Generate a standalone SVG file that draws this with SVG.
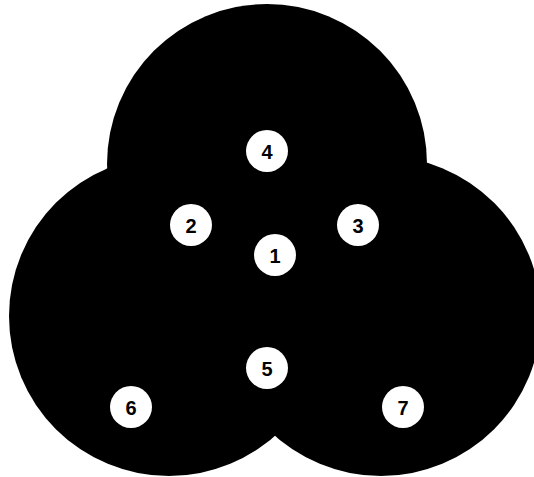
<svg xmlns="http://www.w3.org/2000/svg" width="534" height="477" viewBox="0 0 534 477">
<style>
.set{fill:#000;}
.badge circle{fill:#fff;}
.badge text{font-family:"Liberation Sans",Arial,sans-serif;font-weight:bold;font-size:20px;fill:#000;text-anchor:middle;dominant-baseline:central;}
</style>
<rect width="534" height="477" fill="#fff"/>
<g id="sets">
<circle class="set" cx="267" cy="164" r="160"/>
<circle class="set" cx="169" cy="316" r="160"/>
<circle class="set" cx="381" cy="316" r="160"/>
</g>
<g id="connectors"></g>
<g id="n1" class="badge"><circle cx="275" cy="255" r="21"/><text x="275" y="256">1</text></g>
<g id="n2" class="badge"><circle cx="191" cy="225" r="21"/><text x="191" y="226">2</text></g>
<g id="n3" class="badge"><circle cx="358" cy="225" r="21"/><text x="358" y="226">3</text></g>
<g id="n4" class="badge"><circle cx="267" cy="151" r="21"/><text x="267" y="152">4</text></g>
<g id="n5" class="badge"><circle cx="267" cy="368" r="21"/><text x="267" y="369">5</text></g>
<g id="n6" class="badge"><circle cx="131" cy="407" r="21"/><text x="131" y="408">6</text></g>
<g id="n7" class="badge"><circle cx="403" cy="407" r="21"/><text x="403" y="408">7</text></g>
</svg>
